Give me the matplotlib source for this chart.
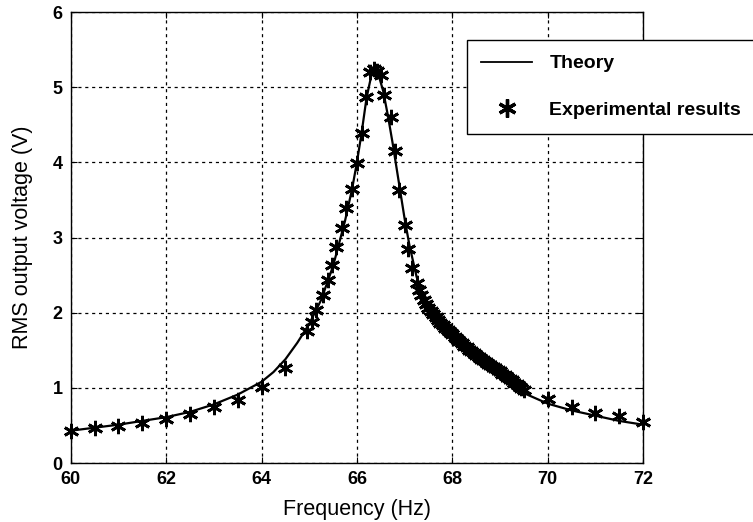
import matplotlib
matplotlib.use("Agg")
import matplotlib.pyplot as plt
from matplotlib.lines import Line2D

# theory curve
theory_f = [60, 60.5, 61, 61.5, 62, 62.5, 63, 63.5, 64, 64.25, 64.5, 64.75,
            65, 65.25, 65.5, 65.75, 65.9, 66.0, 66.1, 66.2, 66.3, 66.37,
            66.45, 66.55, 66.65, 66.75, 66.85, 67.0, 67.1, 67.25, 67.4,
            67.5, 67.75, 68, 68.5, 69, 69.5, 70, 70.5, 71, 71.5, 72]
theory_v = [0.43, 0.47, 0.51, 0.56, 0.61, 0.68, 0.78, 0.91, 1.08, 1.21, 1.38, 1.60,
            1.85, 2.17, 2.62, 3.22, 3.65, 4.00, 4.40, 4.85, 5.15, 5.22,
            5.17, 4.95, 4.62, 4.25, 3.85, 3.25, 2.90, 2.48, 2.20,
            2.06, 1.85, 1.70, 1.41, 1.17, 0.93, 0.79, 0.70, 0.63, 0.56, 0.51]

# experimental points
exp_f = [60, 60.5, 61, 61.5, 62, 62.5, 63, 63.5, 64, 64.5,
         64.95, 65.05, 65.15, 65.28, 65.4, 65.47, 65.56, 65.68, 65.77, 65.89,
         66.0, 66.1, 66.2, 66.28, 66.35, 66.42, 66.5, 66.57, 66.72, 66.8,
         66.88, 67.0, 67.07, 67.15, 67.25,
         67.3, 67.35, 67.4, 67.45, 67.5, 67.55, 67.6, 67.65, 67.7, 67.75,
         67.8, 67.85, 67.9, 67.95, 68.0, 68.05, 68.1, 68.15, 68.2, 68.25,
         68.3, 68.35, 68.4, 68.45, 68.5, 68.55, 68.6, 68.65, 68.7, 68.75,
         68.8, 68.85, 68.9, 68.95, 69.0, 69.05, 69.1, 69.15, 69.2, 69.25,
         69.3, 69.35, 69.4, 69.45, 69.5,
         70, 70.5, 71, 71.5, 72]
exp_v = [0.42, 0.46, 0.49, 0.53, 0.58, 0.65, 0.74, 0.84, 1.01, 1.26,
         1.75, 1.88, 2.03, 2.23, 2.43, 2.63, 2.88, 3.12, 3.39, 3.65,
         3.99, 4.39, 4.87, 5.20, 5.24, 5.22, 5.16, 4.89, 4.60, 4.15,
         3.63, 3.16, 2.85, 2.59, 2.40,
         2.30, 2.24, 2.17, 2.11, 2.06, 2.02, 1.98, 1.94, 1.90, 1.86,
         1.83, 1.80, 1.77, 1.74, 1.71, 1.68, 1.65, 1.62, 1.59, 1.56,
         1.54, 1.51, 1.49, 1.46, 1.44, 1.41, 1.39, 1.37, 1.34, 1.32,
         1.30, 1.28, 1.26, 1.24, 1.22, 1.19, 1.17, 1.15, 1.12, 1.10,
         1.07, 1.05, 1.02, 1.00, 0.97,
         0.85, 0.75, 0.66, 0.62, 0.55]

x_ticks = [60, 62, 64, 66, 68, 70, 72]
y_ticks = [0, 1, 2, 3, 4, 5, 6]

plt.rcParams['font.family'] = ['Liberation Sans', 'DejaVu Sans']

fig = plt.figure(figsize=(7.53, 5.22), dpi=100)
ax = fig.add_axes([0.094, 0.113, 0.760, 0.864])

star = (6, 2, 0)
ax.plot(theory_f, theory_v, color='black', lw=1.6, zorder=3)
ax.plot(exp_f, exp_v, ls='none', marker=star, ms=11, mew=2.0,
        color='black', zorder=4, clip_on=False)

ax.set_xlim(60, 72)
ax.set_ylim(0, 6)
ax.set_xticks(x_ticks)
ax.set_yticks(y_ticks)
ax.grid(True, color='black', linestyle=(0, (2.5, 3)), linewidth=0.9)
ax.tick_params(direction='in', top=True, right=True, length=4, width=0.8,
               labelsize=13)
ax.tick_params(axis='x', pad=6)
ax.tick_params(axis='y', pad=6)
for lab in ax.get_xticklabels() + ax.get_yticklabels():
    lab.set_fontweight('bold')
for sp in ax.spines.values():
    sp.set_linewidth(1.0)

ax.set_xlabel('Frequency (Hz)', fontsize=15.5, labelpad=8)
ax.set_ylabel('RMS output voltage (V)', fontsize=15.5, labelpad=14)

handles = [Line2D([], [], color='black', lw=1.3),
           Line2D([], [], ls='none', marker=star, ms=13, mew=2.4, color='black')]
leg = fig.legend(handles, ['Theory', 'Experimental results'],
                 loc='upper left', bbox_to_anchor=(0.620, 0.923),
                 frameon=True, fancybox=False, edgecolor='black', framealpha=1,
                 borderpad=0.75, labelspacing=1.5, handlelength=2.6,
                 handletextpad=0.9, borderaxespad=0,
                 prop={'weight': 'bold', 'size': 14})
leg.get_frame().set_linewidth(1.0)

fig.savefig('out.png', dpi=100)
